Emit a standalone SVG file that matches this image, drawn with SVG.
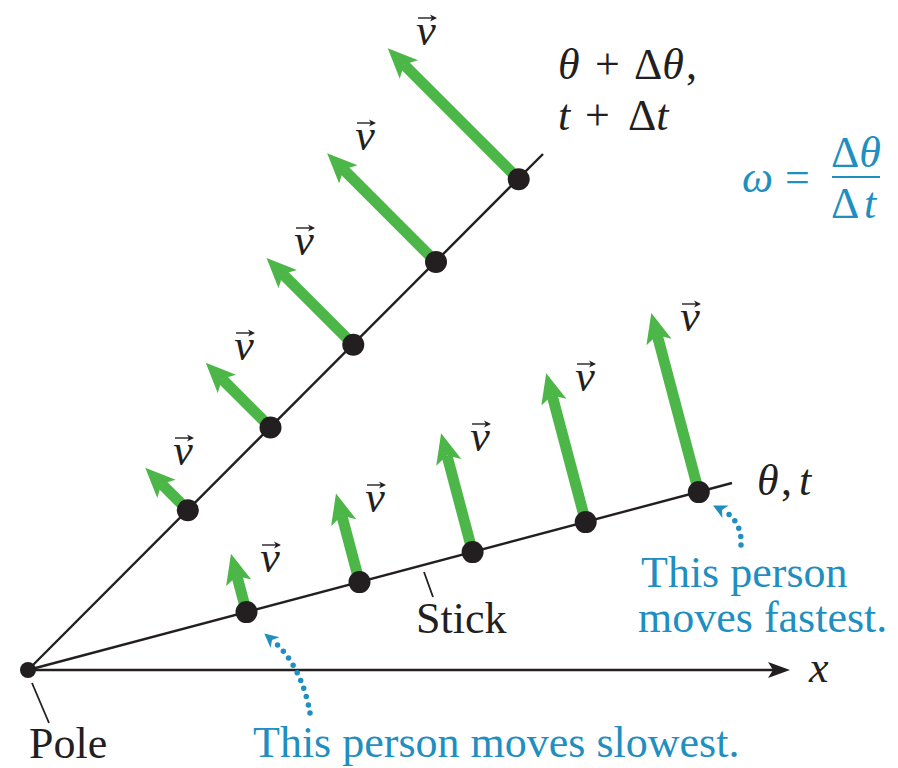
<svg xmlns="http://www.w3.org/2000/svg" width="898" height="768" viewBox="0 0 898 768">
<defs>
<style>
.stick{stroke:#231f20;stroke-width:2.4;fill:none}
.vel{stroke:#4cb748;stroke-width:11;fill:none;marker-end:url(#gh)}
.dot{fill:#231f20}
.lbl{font-family:"Liberation Serif","Times New Roman",serif;font-size:44px;fill:#231f20}
.it{font-style:italic}
.blue{fill:#1e8fc0}
.vl{font-family:"Liberation Serif","Times New Roman",serif;font-size:44px;font-style:italic;fill:#231f20;text-anchor:middle}
.acc{stroke:#231f20;stroke-width:1.4;fill:none;marker-end:url(#ah)}
.call{stroke:#1e8fc0;stroke-width:5.5;stroke-linecap:round;stroke-dasharray:0 8.5;fill:none;marker-end:url(#bh)}
.tick{stroke:#231f20;stroke-width:1.8}
</style>
<marker id="gh" markerUnits="userSpaceOnUse" viewBox="0 -14 31 28" markerWidth="31" markerHeight="28" refX="7" refY="0" orient="auto">
<path d="M30,0 L0,-13 L7,0 L0,13 Z" fill="#4cb748"/>
</marker>
<marker id="xh" markerUnits="userSpaceOnUse" viewBox="0 -9 23 18" markerWidth="23" markerHeight="18" refX="5" refY="0" orient="auto">
<path d="M22,0 L0,-8 L5,0 L0,8 Z" fill="#231f20"/>
</marker>
<marker id="bh" markerUnits="userSpaceOnUse" viewBox="0 -8 15 16" markerWidth="15" markerHeight="16" refX="4" refY="0" orient="auto">
<path d="M14,0 L0,-7 L4,0 L0,7 Z" fill="#1e8fc0"/>
</marker>
<marker id="ah" markerUnits="userSpaceOnUse" viewBox="0 -4 8 8" markerWidth="8" markerHeight="8" refX="2" refY="0" orient="auto">
<path d="M7,0 L0,-3.5 L2,0 L0,3.5 Z" fill="#231f20"/>
</marker>
</defs>

<g id="axis">
<line class="stick" x1="28" y1="670" x2="773" y2="670" marker-end="url(#xh)"/>
<text class="lbl it" x="809" y="682">x</text>
</g>

<g id="stick-lines">
<line class="stick" x1="28" y1="670" x2="543" y2="154"/>
<line class="stick" x1="28" y1="670" x2="732" y2="483"/>
</g>

<g id="pole">
<circle class="dot" cx="28" cy="670" r="8"/>
<text class="lbl" x="29" y="758">Pole</text>
</g>

<g id="connectors">
<line class="tick" x1="32" y1="683" x2="49" y2="723"/>
<line class="tick" x1="424" y1="572" x2="433" y2="597"/>
<path class="call" d="M310,713 C306,690 296,660 272,640"/>
<path class="call" d="M741,545 C742,530 736,517 722,510"/>
</g>

<g id="upper-persons">
<line class="vel" x1="187.8" y1="510.2" x2="161.5" y2="483.9"/>
<line class="vel" x1="270.5" y1="427.5" x2="222.0" y2="379.0"/>
<line class="vel" x1="353.3" y1="344.7" x2="282.8" y2="274.2"/>
<line class="vel" x1="436.0" y1="262.0" x2="343.4" y2="169.4"/>
<line class="vel" x1="518.7" y1="179.3" x2="404.0" y2="64.6"/>
<circle class="dot" cx="187.8" cy="510.2" r="11"/>
<circle class="dot" cx="270.5" cy="427.5" r="11"/>
<circle class="dot" cx="353.3" cy="344.7" r="11"/>
<circle class="dot" cx="436.0" cy="262.0" r="11"/>
<circle class="dot" cx="518.7" cy="179.3" r="11"/>
</g>

<g id="lower-persons">
<line class="vel" x1="246.5" y1="612.1" x2="236.9" y2="576.0"/>
<line class="vel" x1="359.5" y1="582.1" x2="341.9" y2="515.8"/>
<line class="vel" x1="472.6" y1="552.1" x2="447.0" y2="455.6"/>
<line class="vel" x1="585.7" y1="522.1" x2="552.1" y2="395.4"/>
<line class="vel" x1="698.8" y1="492.1" x2="657.2" y2="335.2"/>
<circle class="dot" cx="246.5" cy="612.1" r="11"/>
<circle class="dot" cx="359.5" cy="582.1" r="11"/>
<circle class="dot" cx="472.6" cy="552.1" r="11"/>
<circle class="dot" cx="585.7" cy="522.1" r="11"/>
<circle class="dot" cx="698.8" cy="492.1" r="11"/>
</g>

<g id="velocity-labels">
<text class="vl" x="183" y="465">v</text><line class="acc" x1="175" y1="438" x2="189" y2="438"/>
<text class="vl" x="244" y="360">v</text><line class="acc" x1="236" y1="333" x2="250" y2="333"/>
<text class="vl" x="304" y="255">v</text><line class="acc" x1="296" y1="228" x2="310" y2="228"/>
<text class="vl" x="365" y="150">v</text><line class="acc" x1="357" y1="123" x2="371" y2="123"/>
<text class="vl" x="426" y="45">v</text><line class="acc" x1="418" y1="18" x2="432" y2="18"/>
<text class="vl" x="270" y="572">v</text><line class="acc" x1="262" y1="545" x2="276" y2="545"/>
<text class="vl" x="375" y="512">v</text><line class="acc" x1="367" y1="485" x2="381" y2="485"/>
<text class="vl" x="480" y="451">v</text><line class="acc" x1="472" y1="424" x2="486" y2="424"/>
<text class="vl" x="585" y="391">v</text><line class="acc" x1="577" y1="364" x2="591" y2="364"/>
<text class="vl" x="690" y="331">v</text><line class="acc" x1="682" y1="304" x2="696" y2="304"/>
</g>

<g id="labels">
<text class="lbl"><tspan class="it" x="558" y="79">θ</tspan><tspan x="595">+</tspan><tspan x="634">Δ</tspan><tspan class="it">θ</tspan><tspan dx="2">,</tspan></text>
<text class="lbl"><tspan class="it" x="558" y="130">t</tspan><tspan x="585">+</tspan><tspan x="628">Δ</tspan><tspan class="it">t</tspan></text>
<text class="lbl"><tspan class="it" x="757" y="495">θ</tspan><tspan x="781">,</tspan><tspan class="it" x="799">t</tspan></text>
<text class="lbl" x="416" y="633">Stick</text>
</g>

<g id="omega-formula">
<text class="lbl blue"><tspan class="it" x="742" y="192">ω</tspan><tspan x="785">=</tspan></text>
<text class="lbl blue"><tspan x="831" y="167">Δ</tspan><tspan class="it">θ</tspan></text>
<line x1="832" y1="177" x2="880" y2="177" stroke="#1e8fc0" stroke-width="2.2"/>
<text class="lbl blue"><tspan x="831" y="218">Δ</tspan><tspan class="it" x="864">t</tspan></text>
</g>

<g id="notes">
<text class="lbl blue" x="253" y="757">This person moves slowest.</text>
<text class="lbl blue" x="641" y="587">This person</text>
<text class="lbl blue" x="638" y="632">moves fastest.</text>
</g>
</svg>
